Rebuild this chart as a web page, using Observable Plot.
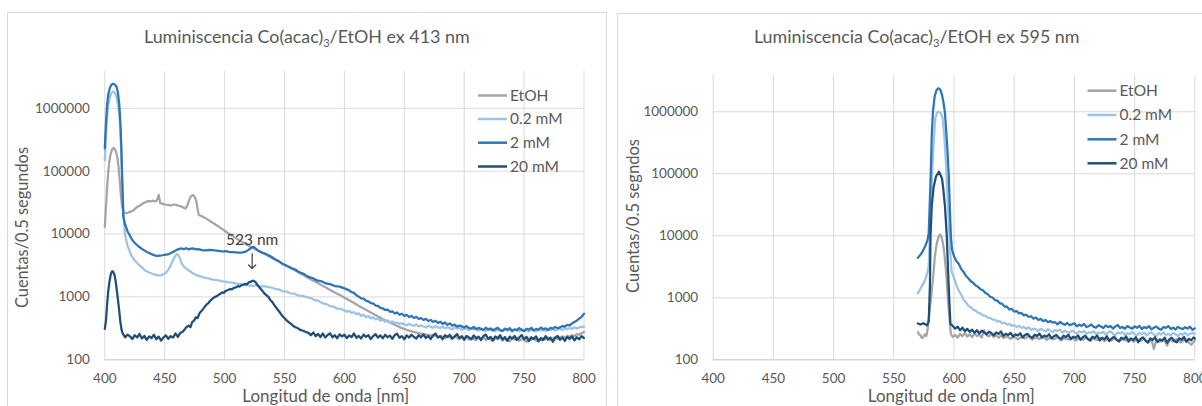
<!DOCTYPE html>
<html><head><meta charset="utf-8">
<script src="https://cdn.jsdelivr.net/npm/d3@7"></script>
<script src="https://cdn.jsdelivr.net/npm/@observablehq/plot@0.6"></script>
<style>
html,body{margin:0;padding:0;background:#fff}
body{width:1202px;height:406px;overflow:hidden;position:relative;font-family:Lato,sans-serif}
svg.layer{position:absolute;left:0;top:0}
</style>
</head><body>
<script>
// ---------- data ----------
const seriesNames = ["EtOH", "0.2 mM", "2 mM", "20 mM"];
const seriesColors = ["#A5A5A5", "#9DC3E6", "#2E75B6", "#1F4E79"];
const xTicks = [400, 450, 500, 550, 600, 650, 700, 750, 800];
const yTicks = [100, 1000, 10000, 100000, 1000000];
const titles = ["Luminiscencia Co(acac)|3|/EtOH ex 413 nm", "Luminiscencia Co(acac)|3|/EtOH ex 595 nm"];
const xTitle = "Longitud de onda [nm]";
const yTitles = ["Cuentas/0.5 segundos", "Cuentas/0.5 segndos"];
const peakNote = {nm: 523, label: "523 nm"};

// excitation 413 nm : [wavelength nm, counts]
const ex413_EtOH = [[400,13000],[401.5,40000],[402.5,80000],[403.7,140000],[404.8,185000],[406,220000],[407.5,235000],[409,215000],[410.4,170000],[411.5,115000],[412.5,70000],[413.5,40000],[414.5,27000],[416,22000],[417,21500],[419,21800],[421,22500],[424,24000],[427,27000],[430,29000],[432,31000],[434,32000],[436,33500],[438,33000],[440,34000],[442,33000],[443.5,34500],[445,42000],[446.2,31000],[448,30500],[450,29500],[452,29000],[455,28500],[458,29500],[460,29000],[462,28000],[464,27500],[466,26000],[467.5,25500],[469,29000],[470.5,35000],[472,40000],[473.6,42000],[475,39000],[476.3,34000],[477.3,26000],[478.3,20500],[480,19500],[482.6,18600],[487,16500],[492,14300],[497,12400],[502,10600],[507,9200],[512,8000],[517,7000],[522,6200],[527,5600],[532,5000],[537,4450],[542,3950],[547,3500],[552,3100],[557,2750],[562,2450],[567,2150],[572,1900],[577,1700],[582,1500],[587,1330],[592,1180],[597,1050],[602,930],[607,820],[612,720],[617,640],[622,565],[627,500],[632,445],[637,400],[642,360],[647,325],[652,300],[657,280],[662,265],[667,255],[672,245],[674,236],[676,248],[678,228],[680,240],[682,232],[684,222],[686,238],[688,226],[690,216],[692,234],[694,224],[696,212],[698,230],[700,220],[702,236],[704,210],[706,224],[708,214],[710,204],[712,226],[714,216],[716,230],[718,206],[720,220],[722,210],[724,198],[726,222],[728,212],[730,226],[732,202],[734,216],[736,208],[738,196],[740,220],[742,210],[744,224],[746,200],[748,214],[750,206],[752,194],[754,218],[756,208],[758,222],[760,200],[762,212],[764,204],[766,222],[768,212],[770,226],[772,206],[774,218],[776,230],[778,214],[780,226],[782,236],[784,222],[786,240],[788,232],[790,246],[792,238],[794,256],[796,250],[798,266],[800,275]];
const ex413_02 = [[400,150000],[401,400000],[402,750000],[403,1150000],[404.2,1500000],[405.5,1750000],[407,1850000],[408.5,1750000],[409.8,1500000],[411,1150000],[412,800000],[413,450000],[413.7,200000],[414.4,80000],[415,40000],[416,17000],[416.8,10000],[418,7800],[419,6500],[420.5,5500],[421.6,4800],[423,4300],[425,3800],[428,3300],[431,2950],[434,2600],[437,2450],[440.7,2300],[444,2200],[447,2200],[450,2350],[452,2550],[453.5,2800],[455,3200],[456.5,3700],[458.3,4300],[459.5,4700],[460.5,4800],[461.5,4600],[462.5,4200],[463.5,3700],[464.7,3300],[466,3050],[468,2800],[470,2650],[472.6,2450],[475,2300],[477,2200],[480,2120],[482,2050],[485,2000],[487,1960],[490,1880],[492,1860],[495,1830],[497,1790],[500,1760],[502,1720],[505,1710],[507,1670],[510,1630],[512,1610],[515,1580],[517,1540],[520,1530],[523.8,1500],[527,1540],[530,1460],[533,1490],[536.6,1430],[540,1400],[542,1340],[545,1320],[548,1240],[552,1210],[555,1140],[558,1130],[562,1040],[565,1040],[568.5,990],[572,960],[575,890],[578,870],[582,790],[585,770],[588,710],[591,705],[594,650],[597,645],[600,610],[602,580],[604,600],[606,556],[608,572],[610,530],[612,548],[614,500],[616,520],[618,478],[620,496],[622,456],[624,474],[626,438],[628,456],[630,420],[632,438],[634,404],[636,424],[638,392],[640,410],[642,384],[644,392],[646,372],[648,380],[650,366],[652,352],[654,374],[656,358],[658,346],[660,366],[662,340],[664,352],[666,338],[668,326],[670,350],[672,334],[674,322],[676,344],[678,330],[680,318],[682,340],[684,316],[686,330],[688,320],[690,306],[692,328],[694,312],[696,322],[698,300],[700,318],[702,308],[704,296],[706,320],[708,304],[710,314],[712,292],[714,310],[716,300],[718,288],[720,312],[722,296],[724,306],[726,284],[728,304],[730,296],[732,286],[734,308],[736,290],[738,300],[740,282],[742,302],[744,292],[746,284],[748,306],[750,288],[752,298],[754,280],[756,300],[758,290],[760,282],[762,304],[764,292],[766,300],[768,286],[770,306],[772,296],[774,312],[776,292],[778,304],[780,314],[782,298],[784,318],[786,306],[788,322],[790,310],[792,330],[794,316],[796,326],[798,336],[800,335]];
const ex413_2 = [[400,230000],[401,600000],[402,1200000],[403,1700000],[404.2,2100000],[405.5,2380000],[407,2460000],[408.5,2380000],[409.8,2200000],[411,1750000],[412,1200000],[413,600000],[413.7,280000],[414.5,80000],[415.4,19000],[416.8,14500],[418,12500],[419,11000],[420.5,9800],[421.6,8900],[423,8000],[425,7200],[428,6400],[431,5800],[433,5500],[435,5200],[438,4900],[440,4700],[442,4550],[444,4500],[446,4550],[448,4600],[451,4700],[453.5,4800],[456,5100],[458,5300],[460,5600],[462,5800],[464,5900],[466,5750],[468,5950],[470,5700],[472,5850],[474,5900],[476,5700],[478,5750],[481,5550],[484,5500],[488,5620],[491.8,5480],[495,5420],[498,5280],[501,5360],[504,5180],[507,5170],[511,5080],[514,5060],[517,5200],[520,5600],[522,6000],[523.8,6300],[525.5,6000],[527,5600],[529,5300],[531,5100],[534,4850],[536.6,4600],[539,4350],[542,3980],[545,3740],[548,3380],[551,3180],[555.7,2880],[559,2730],[562,2480],[566,2330],[570,2080],[574,1980],[577,1830],[581,1770],[584.5,1640],[588,1600],[592,1490],[596,1460],[600,1370],[602,1320],[604,1270],[606,1190],[608,1160],[610,1060],[612,1010],[614,950],[616,940],[618,870],[620,850],[622,800],[624,790],[626,730],[628,720],[630,670],[632,660],[634,620],[636,630],[638,580],[640,590],[642,545],[644,566],[646,520],[648,540],[650,500],[652,520],[654,480],[656,498],[658,462],[660,480],[662,446],[664,462],[666,430],[668,448],[670,414],[672,430],[674,400],[676,418],[678,386],[680,404],[682,372],[684,392],[686,360],[688,380],[690,350],[692,362],[694,336],[696,352],[698,340],[700,326],[702,344],[704,320],[706,312],[708,334],[710,306],[712,322],[714,310],[716,298],[718,324],[720,302],[722,316],[724,292],[726,310],[728,322],[730,296],[732,288],[734,314],[736,300],[738,318],[740,290],[742,304],[744,296],[746,320],[748,298],[750,286],[752,312],[754,302],[756,322],[758,294],[760,310],[762,300],[764,326],[766,306],[768,316],[770,298],[772,322],[774,312],[776,334],[778,316],[780,328],[782,344],[784,336],[786,360],[788,352],[790,380],[792,398],[794,420],[796,452],[798,482],[800,540]];
const ex413_20 = [[400,310],[401,420],[402,800],[403,1300],[404,1800],[405,2300],[406.2,2570],[407,2500],[408,2300],[409,1800],[410,1300],[411,900],[412,610],[413,400],[414,300],[415,260],[417,228],[419,252],[421,236],[423,214],[425,246],[427,226],[429,258],[431,218],[433,240],[435,208],[437,236],[439,222],[441,250],[443,212],[445,234],[447,202],[449,228],[451,244],[453,216],[455,238],[457,226],[459,262],[461,232],[463,268],[465,280],[467,310],[468,330],[470,350],[471.5,330],[473,400],[474.5,420],[476,475],[477.5,460],[479,550],[480.5,590],[482,640],[483.5,700],[485,760],[486.5,800],[488,870],[490,940],[491.8,1000],[493.5,1030],[495,1080],[496.5,1120],[498,1180],[499.5,1160],[501,1250],[503,1290],[504.6,1340],[506,1320],[508,1400],[509.5,1420],[511,1480],[512.5,1460],[514,1530],[515.5,1560],[517,1610],[518.5,1580],[520,1700],[522,1750],[523.8,1820],[525,1760],[526,1700],[527,1580],[528,1500],[529,1420],[530,1350],[531.5,1250],[533,1150],[535,1060],[536.6,1000],[538,900],[540,820],[541.5,740],[543,680],[544.5,620],[546,570],[547.5,520],[549,480],[550.5,450],[552,420],[554,390],[555.7,370],[557,350],[559,330],[561,320],[563,300],[565.5,290],[568.5,275],[570,268],[572,246],[574,272],[576,238],[578,258],[580,230],[582,262],[584,226],[586,248],[588,264],[590,228],[592,246],[594,220],[596,254],[598,236],[600,250],[602,222],[604,244],[606,230],[608,262],[610,224],[612,240],[614,218],[616,252],[618,232],[620,246],[622,214],[624,238],[626,256],[628,226],[630,244],[632,220],[634,250],[636,228],[638,242],[640,216],[642,248],[644,260],[646,224],[648,238],[650,212],[652,244],[654,226],[656,250],[658,230],[660,218],[662,246],[664,228],[666,254],[668,222],[670,240],[672,214],[674,244],[676,262],[678,226],[680,238],[682,212],[684,246],[686,230],[688,250],[690,218],[692,236],[694,256],[696,222],[698,238],[700,208],[702,240],[704,226],[706,212],[708,244],[710,220],[712,234],[714,206],[716,238],[718,252],[720,216],[722,232],[724,204],[726,236],[728,220],[730,246],[732,210],[734,230],[736,200],[738,234],[740,218],[742,240],[744,206],[746,226],[748,248],[750,212],[752,232],[754,198],[756,228],[758,214],[760,236],[762,196],[764,222],[766,206],[768,238],[770,210],[772,226],[774,194],[776,224],[778,240],[780,208],[782,226],[784,200],[786,232],[788,214],[790,236],[792,204],[794,228],[796,212],[798,238],[800,222]];

// excitation 595 nm : [wavelength nm, counts]
const ex595_EtOH = [[570,280],[571,255],[572,250],[573,230],[574,225],[575,245],[576,260],[577,240],[578,300],[579,450],[580,700],[580.8,920],[581.7,1400],[582.5,2000],[583.3,3000],[584,4500],[585,6200],[586,8000],[587.2,9600],[588.5,10500],[589.3,10000],[590,9000],[591,7200],[592,5200],[592.8,3600],[593.5,2500],[594.3,1500],[595,920],[595.8,600],[596.5,400],[597.4,260],[599,235],[601,250],[603,228],[605,262],[607,240],[609,270],[611,236],[613,258],[615,232],[617,268],[619,242],[621,255],[623,228],[625,300],[627,250],[629,238],[631,262],[633,232],[635,250],[637,226],[639,248],[641,224],[644,240],[647,218],[650,236],[653,214],[656,232],[659,220],[662,240],[665,212],[668,230],[671,216],[674,236],[677,210],[680,228],[683,214],[686,232],[689,206],[692,224],[695,212],[698,230],[701,204],[704,222],[707,210],[710,228],[713,202],[716,220],[719,208],[722,226],[725,200],[728,218],[731,206],[734,224],[737,198],[740,216],[743,204],[746,222],[749,196],[752,214],[755,202],[758,220],[761,190],[764,212],[766,150],[768,208],[771,196],[774,218],[777,170],[779,210],[782,198],[785,216],[788,190],[791,210],[794,196],[797,175],[800,205]];
const ex595_02 = [[570,1180],[573,1500],[576,1940],[578,2600],[579,3300],[580,12000],[580.7,30000],[581.8,100000],[583,300000],[584.5,800000],[586,980000],[587.5,1000000],[589,960000],[590.5,800000],[592,400000],[593.3,150000],[595,30000],[596.2,10000],[597,5000],[598,2640],[600,2100],[602,1600],[604,1300],[606,1120],[608,930],[610,840],[612,740],[614,700],[616,640],[618,620],[620,570],[622,560],[624,520],[626,516],[628,478],[630,476],[632,444],[634,446],[636,412],[638,420],[640,388],[642,398],[644,368],[646,380],[648,352],[650,364],[652,338],[654,352],[656,326],[658,340],[660,316],[662,334],[664,304],[666,318],[668,310],[670,292],[672,316],[674,300],[676,288],[678,312],[680,294],[682,280],[684,302],[686,290],[688,306],[690,276],[692,294],[694,284],[696,270],[698,296],[700,280],[702,266],[704,288],[706,276],[708,292],[710,262],[712,280],[714,272],[716,290],[718,258],[720,276],[722,268],[724,284],[726,256],[728,274],[730,288],[732,262],[734,252],[736,276],[738,266],[740,282],[742,250],[744,268],[746,258],[748,280],[750,262],[752,248],[754,272],[756,258],[758,276],[760,246],[762,266],[764,278],[766,254],[768,244],[770,270],[772,256],[774,276],[776,250],[778,262],[780,246],[782,272],[784,258],[786,242],[788,266],[790,254],[792,274],[794,248],[796,262],[798,270],[800,265]];
const ex595_2 = [[570,4400],[573,5200],[576,6700],[578,8500],[579,11000],[580,40000],[580.7,100000],[581.5,400000],[582.5,1000000],[584,1800000],[585.5,2250000],[587,2400000],[588.5,2300000],[590,1900000],[591.3,1400000],[592.4,1000000],[593.5,500000],[594.5,250000],[595.6,100000],[596.5,30000],[597.4,10000],[598.4,5900],[600,4700],[602,3900],[604,3500],[606,2900],[608,2600],[610,2250],[612,2050],[614,1850],[616,1740],[618,1580],[620,1500],[622,1370],[624,1320],[626,1200],[628,1140],[630,1040],[632,1010],[634,920],[636,900],[638,820],[640,800],[642,720],[644,720],[646,650],[648,660],[650,600],[652,610],[654,560],[656,570],[658,520],[660,534],[662,490],[664,504],[666,462],[668,480],[670,440],[672,458],[674,420],[676,440],[678,404],[680,424],[682,398],[684,404],[686,372],[688,410],[690,384],[692,366],[694,392],[696,360],[698,376],[700,388],[702,346],[704,368],[706,352],[708,380],[710,338],[712,348],[714,372],[716,340],[718,330],[720,362],[722,344],[724,326],[726,358],[728,336],[730,352],[732,320],[734,342],[736,364],[738,326],[740,338],[742,316],[744,350],[746,332],[748,318],[750,346],[752,328],[754,352],[756,314],[758,336],[760,324],[762,348],[764,310],[766,330],[768,344],[770,318],[772,306],[774,338],[776,326],[778,350],[780,314],[782,330],[784,308],[786,340],[788,322],[790,312],[792,336],[794,318],[796,342],[798,304],[800,322]];
const ex595_20 = [[570,385],[572,370],[574.5,390],[577.6,360],[579,420],[580,1500],[580.5,10000],[581.5,30000],[583,60000],[585,90000],[587.5,108000],[590,85000],[591,60000],[592.5,30000],[594,10000],[595,3000],[596,1000],[597,380],[599,352],[601,318],[603,342],[605,300],[607,330],[609,290],[611,316],[613,282],[615,306],[617,272],[619,300],[621,266],[623,294],[625,278],[627,256],[629,284],[631,270],[633,248],[635,276],[637,262],[639,286],[641,244],[643,262],[645,252],[647,272],[649,236],[651,258],[653,246],[655,268],[657,230],[659,252],[661,262],[663,238],[665,226],[667,254],[669,242],[671,264],[673,228],[675,246],[677,236],[679,258],[681,222],[683,240],[685,252],[687,228],[689,216],[691,244],[693,232],[695,254],[697,214],[699,236],[701,226],[703,248],[705,210],[707,232],[709,244],[711,218],[713,206],[715,236],[717,224],[719,246],[721,204],[723,228],[725,214],[727,240],[729,200],[731,222],[733,236],[735,210],[737,198],[739,228],[741,216],[743,238],[745,196],[747,220],[749,208],[751,232],[753,192],[755,218],[757,230],[759,204],[761,190],[763,222],[765,208],[767,232],[769,194],[771,214],[773,202],[775,228],[777,188],[779,216],[781,226],[783,200],[785,192],[787,222],[789,210],[791,234],[793,196],[795,218],[797,206],[799,230],[800,220]];

// ---------- build ----------
function table(arrs) {
  return arrs.flatMap((a, i) => a.map(([wl, v]) => ({wl, v, s: seriesNames[i]})));
}
const panels = [
  {data: table([ex413_EtOH, ex413_02, ex413_2, ex413_20]), left: 0, width: 607, mL: 104.3, mR: 23.5, mT: 71, mB: 46.7, note: true},
  {data: table([ex595_EtOH, ex595_02, ex595_2, ex595_20]), left: 612, width: 590, mL: 100.7, mR: 7.7, mT: 75, mB: 46.7, note: false}
];

// background layer with panel borders
const bg = d3.select(document.body).append("svg").attr("class", "layer").attr("width", 1202).attr("height", 406);
bg.append("rect").attr("x", 7.5).attr("y", 12.5).attr("width", 599).attr("height", 430).attr("fill", "#fff").attr("stroke", "#D9D9D9");
bg.append("rect").attr("x", 617.5).attr("y", 13.5).attr("width", 620).attr("height", 430).attr("fill", "#fff").attr("stroke", "#D9D9D9");

for (const p of panels) {
  const marks = [
    Plot.gridX(xTicks, {stroke: "#D9D9D9", strokeOpacity: 1}),
    Plot.gridY(yTicks, {stroke: "#D9D9D9", strokeOpacity: 1}),
    Plot.ruleY([100], {stroke: "#D0D0D0"}),
    Plot.axisX(xTicks, {tickSize: 0, tickPadding: 14, fontSize: 13.5, label: null}),
    Plot.axisY(yTicks, {tickSize: 0, tickPadding: 15, fontSize: 13.5, label: null, tickFormat: d => String(d)}),
    Plot.line(p.data, {x: "wl", y: "v", z: "s", stroke: "s", strokeWidth: 2.25, strokeLinejoin: "round"})
  ];
  if (p.note) {
    marks.push(Plot.text([peakNote], {x: "nm", y: () => 7900, text: "label", fontSize: 15.5, fill: "#404040"}));
    marks.push(Plot.arrow([peakNote], {x1: "nm", x2: "nm", y1: () => 4900, y2: () => 2830, stroke: "#404040", strokeWidth: 1.2, headLength: 7, headAngle: 90}));
  }
  const chart = Plot.plot({
    width: p.width, height: 406,
    marginLeft: p.mL, marginRight: p.mR, marginTop: p.mT, marginBottom: p.mB,
    style: {background: "transparent", color: "#595959", fontFamily: "Lato, sans-serif", overflow: "visible"},
    x: {domain: [400, 800]},
    y: {type: "log", domain: [100, 3.85e6]},
    color: {domain: seriesNames, range: seriesColors},
    marks
  });
  chart.style.position = "absolute";
  chart.style.left = p.left + "px";
  chart.style.top = "0px";
  document.body.appendChild(chart);
}

// foreground text layer
const fg = d3.select(document.body).append("svg").attr("class", "layer").attr("width", 1202).attr("height", 406)
  .style("font-family", "Lato, sans-serif").attr("fill", "#595959");

function fit(sel, target) {
  const w = sel.node().getComputedTextLength();
  const fs = parseFloat(sel.attr("font-size"));
  sel.attr("font-size", (fs * target / w).toFixed(2));
}

const layout = [
  {titleX: 306.8, xTitleX: 325.8, yTitleX: 28, yTitleY: 227.5, yTitleW: 161, legX: 478, legY: [95.5, 119, 142.7, 166.5]},
  {titleX: 916.7, xTitleX: 951.3, yTitleX: 639, yTitleY: 216, yTitleW: 154, legX: 1087.5, legY: [90.7, 115, 139.3, 163.3]}
];
layout.forEach((L, i) => {
  const parts = titles[i].split("|");
  const t = fg.append("text").attr("x", L.titleX).attr("y", 43).attr("text-anchor", "middle").attr("font-size", 16);
  t.append("tspan").text(parts[0]);
  t.append("tspan").attr("font-size", "0.62em").attr("dy", 4).text(parts[1]);
  t.append("tspan").attr("dy", -4).text(parts[2]);
  fit(t, 326);
  const xt = fg.append("text").attr("x", L.xTitleX).attr("y", 402).attr("text-anchor", "middle").attr("font-size", 14).text(xTitle);
  fit(xt, 167);
  const yt = fg.append("text").attr("transform", `translate(${L.yTitleX},${L.yTitleY}) rotate(-90)`).attr("text-anchor", "middle").attr("font-size", 14).text(yTitles[i]);
  fit(yt, L.yTitleW);
  seriesNames.forEach((name, k) => {
    fg.append("line").attr("x1", L.legX).attr("x2", L.legX + 29).attr("y1", L.legY[k]).attr("y2", L.legY[k])
      .attr("stroke", seriesColors[k]).attr("stroke-width", 2.5);
    fg.append("text").attr("x", L.legX + 32).attr("y", L.legY[k] + 5.3).attr("font-size", 15.5).text(name);
  });
});
</script>
</body></html>
